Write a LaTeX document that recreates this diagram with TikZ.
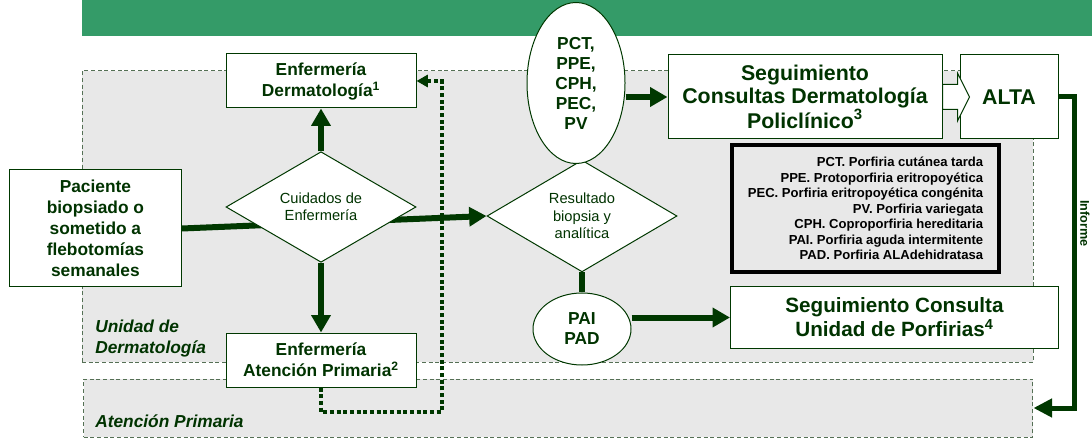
\documentclass[tikz,border=0pt]{standalone}
\usepackage{fontspec}
\setmainfont{Liberation Sans}
\usetikzlibrary{shapes.geometric,arrows.meta,calc}
\definecolor{hdrgreen}{RGB}{52,155,104}
\definecolor{txtgreen}{RGB}{0,51,0}
\definecolor{lngreen}{RGB}{0,56,0}
\definecolor{dashgreen}{RGB}{85,112,85}
\definecolor{zonegray}{RGB}{232,232,232}
\tikzset{
  zone/.style={draw=dashgreen,fill=zonegray,line width=0.75pt,dash pattern=on 3pt off 2pt,inner sep=0pt},
  zonelbl/.style={text=txtgreen,font=\bfseries\itshape\fontsize{13}{15.75}\selectfont,align=left,inner sep=0pt},
  box/.style={draw=lngreen,fill=white,line width=0.75pt,text=txtgreen,align=center,inner sep=0pt,font=\bfseries\fontsize{13}{15.75}\selectfont},
  bigbox/.style={box,font=\bfseries\fontsize{16}{17}\selectfont},
  choice/.style={diamond,draw=lngreen,fill=white,line width=0.75pt,text=txtgreen,align=center,inner sep=0pt,font=\fontsize{11}{13.1}\selectfont},
  dx/.style={ellipse,draw=lngreen,fill=white,line width=0.75pt,text=txtgreen,align=center,inner sep=0pt,font=\bfseries\fontsize{13}{15}\selectfont},
  keybox/.style={draw=black,fill=zonegray,line width=3pt,align=right,inner sep=0pt,font=\bfseries\fontsize{9.8}{11.6}\selectfont},
  flow/.style={draw=lngreen,line width=4.5pt,-{Triangle[width=14pt,length=13pt]}},
  dotflow/.style={draw=lngreen,line width=3pt,dash pattern=on 3pt off 2pt,-{Triangle[width=9pt,length=8.5pt]}},
  reportflow/.style={draw=lngreen,line width=3.75pt,-{Triangle[width=13.5pt,length=14pt]}},
  blockarrow/.style={draw=lngreen,fill=white,line width=0.75pt,line join=miter}
}
\begin{document}
\begin{tikzpicture}[x=0.75pt,y=0.75pt,yscale=-1,xscale=1]
  \useasboundingbox (0,0) rectangle (1092,438);
  \fill[hdrgreen] (82,0) rectangle (1092,35.7);
  \node[zone,minimum width=713.25pt,minimum height=218.25pt] (dermZone) at (557.5,216.5) {};
  \node[zone,minimum width=712pt,minimum height=43.5pt] (apZone) at (558.3,408) {};
  \node[zonelbl,anchor=north west] (dermLbl) at (95,319.5) {Unidad de\\Dermatología};
  \node[zonelbl,anchor=base west] (apLbl) at (95,427) {Atención Primaria};
  \node[keybox,minimum width=200.25pt,minimum height=95.25pt] (key) at (865.5,208.5) {PCT. Porfiria cutánea tarda\\PPE. Protoporfiria eritropoyética\\PEC. Porfiria eritropoyética congénita\\PV. Porfiria variegata\\CPH. Coproporfiria hereditaria\\PAI. Porfiria aguda intermitente\\PAD. Porfiria ALAdehidratasa};

  \node[box,minimum width=129pt,minimum height=87.75pt] (patient) at (95.4,228.5) {Paciente\\biopsiado o\\sometido a\\flebotomías\\semanales};
  \node[choice,minimum width=142.5pt,minimum height=78pt] (result) at (582,216) {Resultado\\biopsia y\\analítica};
  \draw[flow] (patient.east) -- (result.west);

  \node[box,minimum width=142.5pt,minimum height=40.5pt] (nurseDerm) at (321,81) {Enfermería\\Dermatología\textsuperscript{1}};
  \node[choice,minimum width=142.5pt,minimum height=52.5pt] (care) at (321,207) {Cuidados de\\Enfermería};
  \node[box,minimum width=142.5pt,minimum height=40.5pt] (nursePrim) at (321,360) {Enfermería\\Atención Primaria\textsuperscript{2}};
  \node[dx,minimum width=73.5pt,minimum height=120.75pt] (skinDx) at (576,83) {PCT,\\PPE,\\CPH,\\PEC,\\PV};
  \node[dx,minimum width=73.5pt,minimum height=54pt] (acuteDx) at (582,329) {PAI\\PAD};
  \node[bigbox,minimum width=205.5pt,minimum height=63pt] (dermFollow) at (805,97) {Seguimiento\\Consultas Dermatología\\Policlínico\textsuperscript{3}};
  \node[bigbox,minimum width=73.5pt,minimum height=63pt] (discharge) at (1009,97) {ALTA};
  \node[bigbox,font=\bfseries\fontsize{15.5}{18}\selectfont,minimum width=246pt,minimum height=45.75pt] (porphFollow) at (894.5,317.5) {Seguimiento Consulta\\Unidad de Porfirias\textsuperscript{4}};

  \draw[flow] (care.north) -- (nurseDerm.south);
  \draw[flow] (care.south) -- (nursePrim.north);
  \draw[flow] (dermFollow.west -| skinDx.east) -- (dermFollow.west);
  \draw[draw=lngreen,line width=4.5pt] (result.south) -- (acuteDx.north);
  \draw[flow] (porphFollow.west -| acuteDx.east) -- (porphFollow.west);
  \draw[blockarrow] ($(dermFollow.east)+(0,-12.5)$) -- ++(15,0) -- ++(0,-11.5) -- ++(12,24) -- ++(-12,24) -- ++(0,-11.5) -- ++(-15,0) -- cycle;

  \coordinate (dotCorner) at (441.5,412);
  \draw[dotflow] (nursePrim.south) |- (dotCorner) |- (nurseDerm.east);

  \draw[reportflow] (discharge.east) -- ++(15.5,0) |- (apZone.east);
  \node[rotate=-90,text=txtgreen,font=\bfseries\fontsize{9.5}{11}\selectfont,inner sep=0pt] (reportLbl) at (1085,223.5) {Informe};
\end{tikzpicture}
\end{document}
